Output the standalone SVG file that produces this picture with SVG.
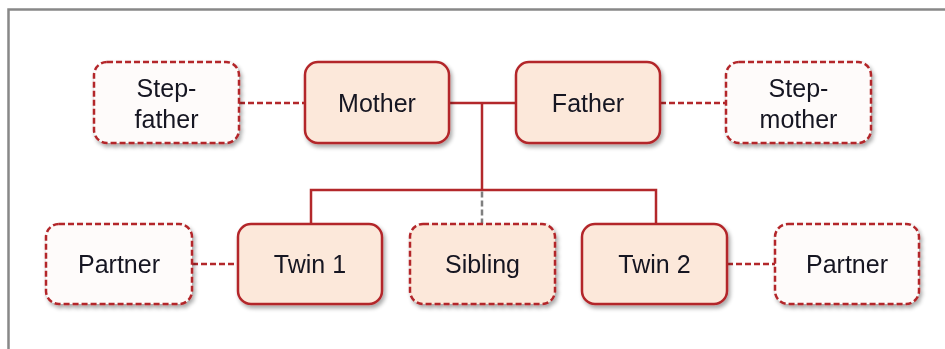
<svg xmlns="http://www.w3.org/2000/svg" width="945" height="349" viewBox="0 0 945 349">
<defs>
<filter id="sh" x="-10%" y="-10%" width="130%" height="130%">
<feGaussianBlur in="SourceAlpha" stdDeviation="2"/>
<feOffset dx="2" dy="3" result="b"/>
<feComponentTransfer><feFuncA type="linear" slope="0.35"/></feComponentTransfer>
<feMerge><feMergeNode/><feMergeNode in="SourceGraphic"/></feMerge>
</filter>
<style>
.solid{fill:#FCE8DA;stroke:#B3282B;stroke-width:2.5}
.dash{fill:#FEFBFA;stroke:#B3282B;stroke-width:2.5;stroke-dasharray:6 3}
.dashp{fill:#FCE8DA;stroke:#B3282B;stroke-width:2.5;stroke-dasharray:6 3}
.t{font-family:"Liberation Sans",Arial,sans-serif;font-size:25px;fill:#141420;text-anchor:middle}
.ln{fill:none;stroke:#B3282B;stroke-width:2.5}
.lnd{fill:none;stroke:#B3282B;stroke-width:2.5;stroke-dasharray:6 3}
.lng{fill:none;stroke:#7F7F7F;stroke-width:2.5;stroke-dasharray:6 3}
</style>
</defs>
<rect x="0" y="0" width="945" height="349" fill="#fff"/>
<path d="M8.5 349 V9.5 H945" fill="none" stroke="#888" stroke-width="2.5"/>
<g id="connectors">
<line class="lnd" x1="239" y1="103" x2="305" y2="103"/>
<line class="lnd" x1="660" y1="103" x2="726" y2="103"/>
<line class="ln" x1="449" y1="103" x2="516" y2="103"/>
<line class="ln" x1="482" y1="103" x2="482" y2="190"/>
<polyline class="ln" points="311,224 311,190 656,190 656,224"/>
<line class="lng" x1="482" y1="191.5" x2="482" y2="224"/>
<line class="lnd" x1="192" y1="264" x2="238" y2="264"/>
<line class="lnd" x1="727" y1="264" x2="775" y2="264"/>
</g>
<g id="stepfather" filter="url(#sh)"><rect class="dash" x="94" y="62" width="145" height="81" rx="13"/><text class="t" x="166.5" y="97">Step-</text><text class="t" x="166.5" y="128">father</text></g>
<g id="mother" filter="url(#sh)"><rect class="solid" x="305" y="62" width="144" height="81" rx="13"/><text class="t" x="377" y="112">Mother</text></g>
<g id="father" filter="url(#sh)"><rect class="solid" x="516" y="62" width="144" height="81" rx="13"/><text class="t" x="588" y="112">Father</text></g>
<g id="stepmother" filter="url(#sh)"><rect class="dash" x="726" y="62" width="145" height="81" rx="13"/><text class="t" x="798.5" y="97">Step-</text><text class="t" x="798.5" y="128">mother</text></g>
<g id="partner1" filter="url(#sh)"><rect class="dash" x="46" y="224" width="146" height="80" rx="13"/><text class="t" x="119" y="273">Partner</text></g>
<g id="twin1" filter="url(#sh)"><rect class="solid" x="238" y="224" width="144" height="80" rx="13"/><text class="t" x="310" y="273">Twin 1</text></g>
<g id="sibling" filter="url(#sh)"><rect class="dashp" x="410" y="224" width="145" height="80" rx="13"/><text class="t" x="482.5" y="273">Sibling</text></g>
<g id="twin2" filter="url(#sh)"><rect class="solid" x="582" y="224" width="145" height="80" rx="13"/><text class="t" x="654.5" y="273">Twin 2</text></g>
<g id="partner2" filter="url(#sh)"><rect class="dash" x="775" y="224" width="144" height="80" rx="13"/><text class="t" x="847" y="273">Partner</text></g>
</svg>
